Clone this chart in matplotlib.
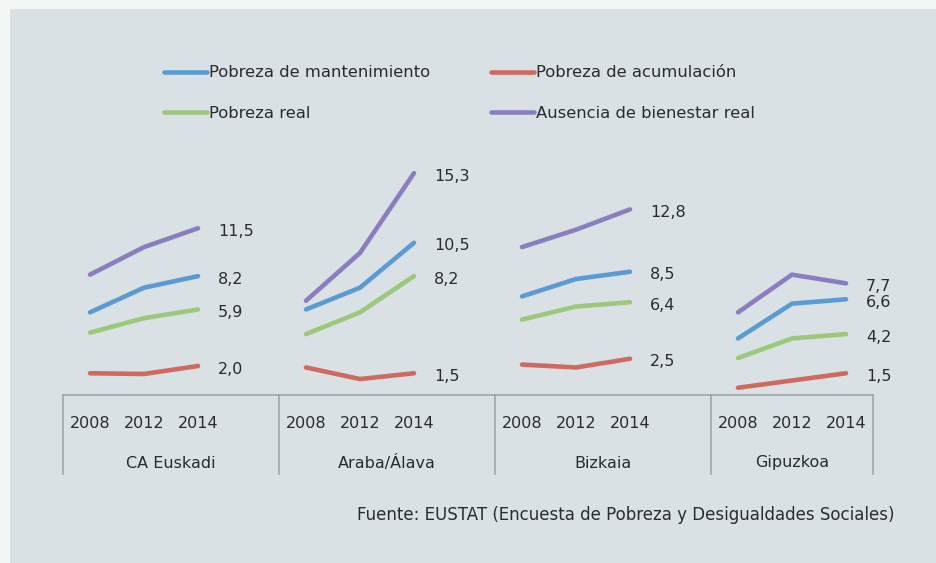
import matplotlib
matplotlib.use("Agg")
import matplotlib.pyplot as plt
from matplotlib.lines import Line2D
from matplotlib.patches import Rectangle
import numpy as np

plt.rcParams['font.family'] = ['DejaVu Sans']

# --- data -------------------------------------------------------------
regions = ["CA Euskadi", "Araba/Álava", "Bizkaia", "Gipuzkoa"]
years = ["2008", "2012", "2014"]

mantenimiento = [[5.7, 7.4, 8.2], [5.9, 7.4, 10.5], [6.8, 8.0, 8.5], [3.9, 6.3, 6.6]]
acumulacion = [[1.5, 1.45, 2.0], [1.9, 1.1, 1.5], [2.1, 1.9, 2.5], [0.5, 1.0, 1.5]]
real = [[4.3, 5.3, 5.9], [4.2, 5.7, 8.2], [5.2, 6.1, 6.4], [2.55, 3.9, 4.2]]
ausencia = [[8.3, 10.2, 11.5], [6.5, 9.8, 15.3], [10.2, 11.4, 12.8], [5.7, 8.3, 7.7]]

series = [
    ("Pobreza de mantenimiento", mantenimiento, "#5B9BD5"),
    ("Pobreza de acumulación", acumulacion, "#CF6A62"),
    ("Pobreza real", real, "#9CC87C"),
    ("Ausencia de bienestar real", ausencia, "#8C7DC0"),
]
source = "Fuente: EUSTAT (Encuesta de Pobreza y Desigualdades Sociales)"

W, H = 937, 563
fig = plt.figure(figsize=(W / 100, H / 100), dpi=100)
fig.patch.set_facecolor("#F4F6F6")
fig.patches.append(Rectangle((10 / W, 0), 1, 1 - 9 / H, transform=fig.transFigure,
                             facecolor="#D9E1E4", edgecolor="none", zorder=-5))

# axes: x in category slots (4 per group, last group 3), y = value
left, right, y0, ymax, ppu = 63, 873, 395, 17.0, 14.5
ax = fig.add_axes([left / W, (H - y0) / H, (right - left) / W, ymax * ppu / H])
ax.set_zorder(2)
ax.set_facecolor("none")
ax.set_xlim(0, 15)
ax.set_ylim(0, ymax)
for s in ["top", "left", "right"]:
    ax.spines[s].set_visible(False)
ax.spines["bottom"].set_color("#9DA7AB")
ax.spines["bottom"].set_linewidth(1.2)
ax.set_yticks([])
ax.set_xticks([])

text_col = "#2B2B2B"
label_dy = -3 / ppu  # label sits a little below the end point

for name, vals, col in series:
    for g, v in enumerate(vals):
        xs = g * 4 + np.arange(len(years)) + 0.5
        ax.plot(xs, v, color=col, lw=3.3, solid_capstyle="round",
                solid_joinstyle="round")
        ax.text(xs[-1] + 20 / 54, v[-1] + label_dy, f"{v[-1]:.1f}".replace(".", ","),
                ha="left", va="center", fontsize=11.5, color=text_col)

# category axis: years, group names, separators
xt = ax.get_xaxis_transform()
frac = lambda px: -px / (ymax * ppu)
for g, reg in enumerate(regions):
    for j, yr in enumerate(years):
        ax.text(g * 4 + j + 0.5, frac(28), yr, transform=xt, ha="center",
                va="center", fontsize=11.5, color=text_col)
    end = min(g * 4 + 4, 15)
    ax.text((g * 4 + end) / 2, frac(68), reg, transform=xt, ha="center",
            va="center", fontsize=11.5, color=text_col)
for xb in [0, 4, 8, 12, 15]:
    ax.plot([xb, xb], [0, frac(79)], transform=xt, color="#9DA7AB", lw=1.2,
            clip_on=False)

# legend
handles = [Line2D([], [], color=c, lw=3.3, solid_capstyle="round") for _, _, c in series]
labels = [n for n, _, _ in series]
order = [0, 2, 1, 3]
fig.legend([handles[i] for i in order], [labels[i] for i in order], ncol=2,
           loc="center left", bbox_to_anchor=(156 / W, 1 - 93 / H), frameon=False,
           fontsize=11.8, handlelength=2.6, handletextpad=0.15, columnspacing=3.7,
           labelspacing=1.55, borderpad=0, labelcolor=text_col)

fig.text(895 / W, 1 - 515 / H, source, ha="right", va="center", fontsize=12.0,
         color=text_col)

fig.savefig("out.png", dpi=100, facecolor=fig.get_facecolor())
